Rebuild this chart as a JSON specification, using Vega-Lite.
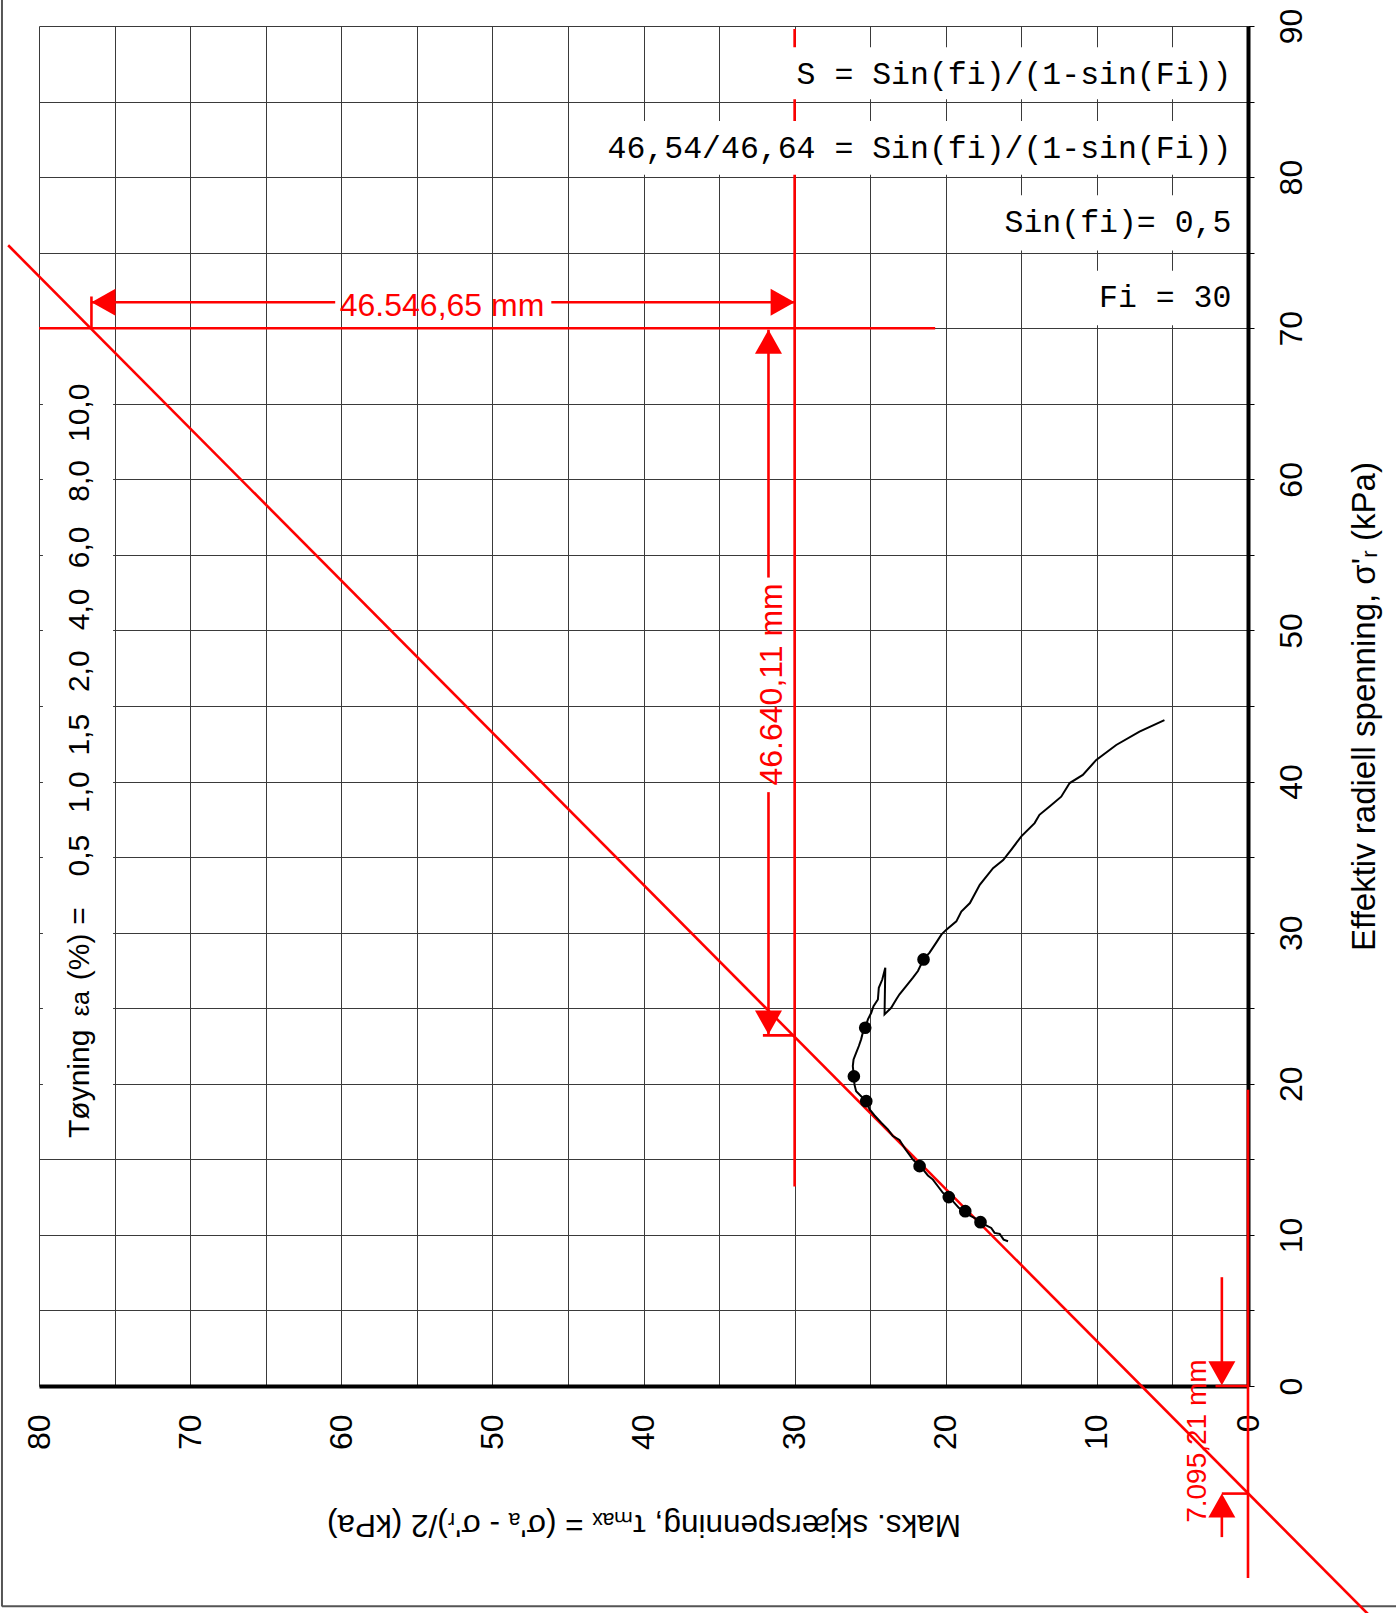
{
  "$schema": "https://vega.github.io/schema/vega-lite/v6.json",
  "width": 1209,
  "height": 1360,
  "autosize": {"type": "none"},
  "padding": {"left": 39, "top": 26, "right": 148, "bottom": 227},
  "background": "white",
  "config": {"view": {"stroke": null}, "font": "Liberation Sans"},
  "datasets": {
    "curve": [
      {"order": 1, "tau": 15.88, "sr": 9.58}, {"order": 2, "tau": 16.17, "sr": 9.69}, {"order": 3, "tau": 16.43, "sr": 10.07},
      {"order": 4, "tau": 16.77, "sr": 10.13}, {"order": 5, "tau": 16.99, "sr": 10.46}, {"order": 6, "tau": 17.43, "sr": 10.68},
      {"order": 7, "tau": 17.7, "sr": 10.84}, {"order": 8, "tau": 18.1, "sr": 11.12}, {"order": 9, "tau": 18.42, "sr": 11.28},
      {"order": 10, "tau": 18.71, "sr": 11.57}, {"order": 11, "tau": 19.13, "sr": 11.79}, {"order": 12, "tau": 19.53, "sr": 12.23},
      {"order": 13, "tau": 19.8, "sr": 12.5}, {"order": 14, "tau": 20.19, "sr": 12.78}, {"order": 15, "tau": 20.52, "sr": 13.22},
      {"order": 16, "tau": 20.85, "sr": 13.66}, {"order": 17, "tau": 21.18, "sr": 13.93}, {"order": 18, "tau": 21.47, "sr": 14.28},
      {"order": 19, "tau": 21.73, "sr": 14.55}, {"order": 20, "tau": 22.17, "sr": 14.99}, {"order": 21, "tau": 22.66, "sr": 15.65},
      {"order": 22, "tau": 23.06, "sr": 16.28}, {"order": 23, "tau": 23.5, "sr": 16.54}, {"order": 24, "tau": 23.83, "sr": 16.98},
      {"order": 25, "tau": 24.27, "sr": 17.42}, {"order": 26, "tau": 24.71, "sr": 17.9}, {"order": 27, "tau": 25.04, "sr": 18.3},
      {"order": 28, "tau": 25.26, "sr": 18.85}, {"order": 29, "tau": 25.6, "sr": 19.18}, {"order": 30, "tau": 25.93, "sr": 19.5},
      {"order": 31, "tau": 26.04, "sr": 19.94}, {"order": 32, "tau": 26.08, "sr": 20.49}, {"order": 33, "tau": 26.15, "sr": 21.17},
      {"order": 34, "tau": 26.1, "sr": 21.61}, {"order": 35, "tau": 25.93, "sr": 22.05}, {"order": 36, "tau": 25.75, "sr": 22.5},
      {"order": 37, "tau": 25.6, "sr": 22.94}, {"order": 38, "tau": 25.49, "sr": 23.38}, {"order": 39, "tau": 25.33, "sr": 23.71},
      {"order": 40, "tau": 25.15, "sr": 24.26}, {"order": 41, "tau": 24.93, "sr": 24.7}, {"order": 42, "tau": 24.78, "sr": 25.14},
      {"order": 43, "tau": 24.49, "sr": 25.58}, {"order": 44, "tau": 24.43, "sr": 26.35}, {"order": 45, "tau": 24.2, "sr": 26.9},
      {"order": 46, "tau": 24.0, "sr": 27.68}, {"order": 47, "tau": 24.05, "sr": 24.59}, {"order": 48, "tau": 23.61, "sr": 25.03},
      {"order": 49, "tau": 23.28, "sr": 25.58}, {"order": 50, "tau": 23.06, "sr": 25.92}, {"order": 51, "tau": 22.62, "sr": 26.47},
      {"order": 52, "tau": 22.17, "sr": 27.02}, {"order": 53, "tau": 21.84, "sr": 27.46}, {"order": 54, "tau": 21.47, "sr": 28.23},
      {"order": 55, "tau": 21.07, "sr": 28.68}, {"order": 56, "tau": 20.63, "sr": 29.34}, {"order": 57, "tau": 20.29, "sr": 29.87},
      {"order": 58, "tau": 19.96, "sr": 30.2}, {"order": 59, "tau": 19.3, "sr": 30.75}, {"order": 60, "tau": 18.97, "sr": 31.4},
      {"order": 61, "tau": 18.4, "sr": 31.96}, {"order": 62, "tau": 17.75, "sr": 33.17}, {"order": 63, "tau": 16.87, "sr": 34.27},
      {"order": 64, "tau": 16.2, "sr": 34.8}, {"order": 65, "tau": 15.66, "sr": 35.5}, {"order": 66, "tau": 15.0, "sr": 36.37},
      {"order": 67, "tau": 14.12, "sr": 37.25}, {"order": 68, "tau": 13.8, "sr": 37.8}, {"order": 69, "tau": 13.13, "sr": 38.35},
      {"order": 70, "tau": 12.36, "sr": 39.0}, {"order": 71, "tau": 11.8, "sr": 39.9}, {"order": 72, "tau": 10.93, "sr": 40.44},
      {"order": 73, "tau": 10.04, "sr": 41.43}, {"order": 74, "tau": 8.72, "sr": 42.42}, {"order": 75, "tau": 7.18, "sr": 43.3},
      {"order": 76, "tau": 5.53, "sr": 44.07}
    ],
    "markers": [
      {"strain": 0.5, "tau": 17.7, "sr": 10.84}, {"strain": 1.0, "tau": 18.71, "sr": 11.57},
      {"strain": 1.5, "tau": 19.8, "sr": 12.5}, {"strain": 2.0, "tau": 21.73, "sr": 14.55},
      {"strain": 4.0, "tau": 25.26, "sr": 18.85}, {"strain": 6.0, "tau": 26.08, "sr": 20.49},
      {"strain": 8.0, "tau": 25.33, "sr": 23.71}, {"strain": 10.0, "tau": 21.47, "sr": 28.23}
    ],
    "redlines": [
      {"name": "failure line", "tau": 82.04, "sr": 75.49, "tau2": -7.95, "sr2": -15.1},
      {"name": "tau30", "tau": 30, "sr": 89.8, "tau2": 30, "sr2": 13.2},
      {"name": "sr70", "tau": 80, "sr": 70, "tau2": 20.7, "sr2": 70},
      {"name": "tau0", "tau": 0, "sr": 19.6, "tau2": 0, "sr2": -12.7},
      {"name": "dimH a", "tau": 76.53, "sr": 71.72, "tau2": 60.4, "sr2": 71.72},
      {"name": "dimH b", "tau": 46.1, "sr": 71.72, "tau2": 30, "sr2": 71.72},
      {"name": "dimH tick", "tau": 76.53, "sr": 70, "tau2": 76.53, "sr2": 72.1},
      {"name": "dimV a", "tau": 31.73, "sr": 69.9, "tau2": 31.73, "sr2": 53.5},
      {"name": "dimV b", "tau": 31.73, "sr": 39.3, "tau2": 31.73, "sr2": 23.26},
      {"name": "dimV tick", "tau": 32.1, "sr": 23.2, "tau2": 30, "sr2": 23.2},
      {"name": "dimA a", "tau": 1.73, "sr": 7.2, "tau2": 1.73, "sr2": 0.5},
      {"name": "dimA b", "tau": 1.73, "sr": -10.0, "tau2": 1.73, "sr2": -7.5},
      {"name": "dimA tick0", "tau": 2.15, "sr": 0, "tau2": 0, "sr2": 0},
      {"name": "dimA tick1", "tau": 1.73, "sr": -7.12, "tau2": 0, "sr2": -7.12}
    ],
    "arrowheads": [
      {"dir": "left", "tau": 76.53, "sr": 71.72},
      {"dir": "right", "tau": 30.0, "sr": 71.72},
      {"dir": "up", "tau": 31.73, "sr": 69.9},
      {"dir": "down", "tau": 31.73, "sr": 23.26},
      {"dir": "down", "tau": 1.73, "sr": 0.05},
      {"dir": "up", "tau": 1.73, "sr": -7.12}
    ],
    "boxes": [
      {"name": "S", "tau": 31, "tau2": 0.25, "sr": 85.15, "sr2": 88.6},
      {"name": "ratio", "tau": 43.9, "tau2": 0.25, "sr": 80.15, "sr2": 83.72},
      {"name": "sin", "tau": 16.8, "tau2": 0.25, "sr": 75.15, "sr2": 78.8},
      {"name": "fi", "tau": 10.8, "tau2": 0.25, "sr": 70.2, "sr2": 73.8},
      {"name": "strain", "tau": 79.74, "tau2": 75.1, "sr": 15.6, "sr2": 67.5}
    ],
    "formulas": [
      {"label": "S = Sin(fi)/(1-sin(Fi))", "tau": 1.1, "sr": 86.78},
      {"label": "46,54/46,64 = Sin(fi)/(1-sin(Fi))", "tau": 1.1, "sr": 81.88},
      {"label": "Sin(fi)= 0,5", "tau": 1.1, "sr": 76.95},
      {"label": "Fi = 30", "tau": 1.1, "sr": 71.98}
    ],
    "strainlabels": [
      {"label": "Tøyning", "tau": 76.72, "sr": 20.0},
      {"label": "(%)", "tau": 76.72, "sr": 28.4},
      {"label": "=", "tau": 76.72, "sr": 31.1},
      {"label": "0,5", "tau": 76.72, "sr": 35.1},
      {"label": "1,0", "tau": 76.72, "sr": 39.3},
      {"label": "1,5", "tau": 76.72, "sr": 43.1},
      {"label": "2,0", "tau": 76.72, "sr": 47.3},
      {"label": "4,0", "tau": 76.72, "sr": 51.4},
      {"label": "6,0", "tau": 76.72, "sr": 55.5},
      {"label": "8,0", "tau": 76.72, "sr": 59.9},
      {"label": "10,0", "tau": 76.72, "sr": 64.4}
    ],
    "strainsymbol": [{"label": "εa", "tau": 76.72, "sr": 25.3}],
    "dimH": [{"label": "46.546,65 mm", "tau": 53.33, "sr": 71.45}],
    "dimV": [{"label": "46.640,11 mm", "tau": 31.5, "sr": 46.43}],
    "dimA": [{"label": "7.095,21 mm", "tau": 3.3, "sr": -3.65}],
    "frame": [
      {"name": "left", "tau": 82.45, "sr": 91.8, "tau2": 82.45, "sr2": -14.6},
      {"name": "bottom", "tau": 82.45, "sr": -14.58, "tau2": -9.9, "sr2": -14.58}
    ]
  },
  "encoding": {
    "x": {
      "field": "tau", "type": "quantitative",
      "scale": {"domain": [0, 80], "reverse": true, "nice": false, "zero": false},
      "axis": {
        "values": [0, 5, 10, 15, 20, 25, 30, 35, 40, 45, 50, 55, 60, 65, 70, 75, 80],
        "labelExpr": "datum.value % 10 === 0 ? datum.label : ''",
        "grid": true, "gridColor": "#3a3a3a", "gridWidth": 1, "gridOpacity": 1,
        "domainColor": "#000000", "domainWidth": 4,
        "ticks": false, "tickSize": 0,
        "labelAngle": 270, "labelAlign": "right", "labelBaseline": "middle",
        "labelPadding": 28, "labelFontSize": 32, "labelColor": "#000000", "labelFont": "Liberation Sans",
        "labelFlush": false, "labelOverlap": false, "labelBound": false,
        "title": "Maks. skjærspenning, τₘₐₓ = (σ'ₐ - σ'ᵣ)/2 (kPa)",
        "titleAngle": 180, "titleBaseline": "bottom", "titleAlign": "center",
        "titleFontSize": 31.5, "titleFontWeight": "normal", "titleColor": "#000000", "titleFont": "Liberation Sans",
        "titlePadding": 58
      }
    },
    "y": {
      "field": "sr", "type": "quantitative",
      "scale": {"domain": [0, 90], "nice": false, "zero": false},
      "axis": {
        "orient": "right",
        "values": [0, 5, 10, 15, 20, 25, 30, 35, 40, 45, 50, 55, 60, 65, 70, 75, 80, 85, 90],
        "labelExpr": "datum.value % 10 === 0 ? datum.label : ''",
        "grid": true, "gridColor": "#3a3a3a", "gridWidth": 1, "gridOpacity": 1,
        "domainColor": "#000000", "domainWidth": 4,
        "ticks": true, "tickSize": 6, "tickColor": "#000000", "tickWidth": 1,
        "labelAngle": 270, "labelAlign": "center", "labelBaseline": "top",
        "labelPadding": 22, "labelFontSize": 32, "labelColor": "#000000", "labelFont": "Liberation Sans",
        "labelFlush": false, "labelOverlap": false, "labelBound": false,
        "title": "Effektiv radiell spenning, σ'ᵣ (kPa)",
        "titleAngle": 270, "titleBaseline": "top", "titleAlign": "center",
        "titleFontSize": 33, "titleFontWeight": "normal", "titleColor": "#000000", "titleFont": "Liberation Sans",
        "titlePadding": 41
      }
    }
  },
  "layer": [
    {
      "data": {"name": "frame"},
      "mark": {"type": "rule", "color": "#555555", "strokeWidth": 2, "clip": false},
      "encoding": {"x2": {"field": "tau2"}, "y2": {"field": "sr2"}}
    },
    {
      "data": {"name": "redlines"},
      "mark": {"type": "rule", "color": "#ff0000", "strokeWidth": 2.6, "clip": false},
      "encoding": {"x2": {"field": "tau2"}, "y2": {"field": "sr2"}}
    },
    {
      "data": {"name": "boxes"},
      "mark": {"type": "rect", "color": "#ffffff", "clip": false},
      "encoding": {"x2": {"field": "tau2"}, "y2": {"field": "sr2"}}
    },
    {
      "data": {"name": "curve"},
      "mark": {"type": "line", "color": "#000000", "strokeWidth": 2, "clip": false},
      "encoding": {"order": {"field": "order", "type": "quantitative"}}
    },
    {
      "data": {"name": "markers"},
      "mark": {"type": "point", "shape": "circle", "filled": true, "color": "#000000", "size": 160, "opacity": 1, "clip": false},
      "encoding": {}
    },
    {
      "data": {"name": "arrowheads"},
      "mark": {"type": "point", "filled": true, "color": "#ff0000", "size": 729, "opacity": 1, "strokeWidth": 0, "clip": false},
      "encoding": {
        "shape": {
          "field": "dir", "type": "nominal", "legend": null,
          "scale": {
            "domain": ["up", "down", "left", "right"],
            "range": ["M0,0L1,1.78L-1,1.78Z", "M0,0L1,-1.78L-1,-1.78Z", "M0,0L1.78,1L1.78,-1Z", "M0,0L-1.78,1L-1.78,-1Z"]
          }
        }
      }
    },
    {
      "data": {"name": "formulas"},
      "mark": {"type": "text", "align": "right", "baseline": "middle", "font": "Liberation Mono", "fontSize": 31.5, "color": "#000000", "clip": false},
      "encoding": {"text": {"field": "label"}}
    },
    {
      "data": {"name": "strainlabels"},
      "mark": {"type": "text", "align": "center", "baseline": "alphabetic", "angle": 270, "font": "Liberation Sans", "fontSize": 30, "color": "#000000", "clip": false},
      "encoding": {"text": {"field": "label"}}
    },
    {
      "data": {"name": "strainsymbol"},
      "mark": {"type": "text", "align": "center", "baseline": "alphabetic", "angle": 270, "font": "Liberation Sans", "fontSize": 25, "color": "#000000", "clip": false},
      "encoding": {"text": {"field": "label"}}
    },
    {
      "data": {"name": "dimH"},
      "mark": {"type": "text", "align": "center", "baseline": "middle", "font": "Liberation Sans", "fontSize": 32, "color": "#ff0000", "clip": false},
      "encoding": {"text": {"field": "label"}}
    },
    {
      "data": {"name": "dimV"},
      "mark": {"type": "text", "align": "center", "baseline": "middle", "angle": 270, "font": "Liberation Sans", "fontSize": 32, "color": "#ff0000", "clip": false},
      "encoding": {"text": {"field": "label"}}
    },
    {
      "data": {"name": "dimA"},
      "mark": {"type": "text", "align": "center", "baseline": "middle", "angle": 270, "font": "Liberation Sans", "fontSize": 28, "color": "#ff0000", "clip": false},
      "encoding": {"text": {"field": "label"}}
    }
  ]
}
